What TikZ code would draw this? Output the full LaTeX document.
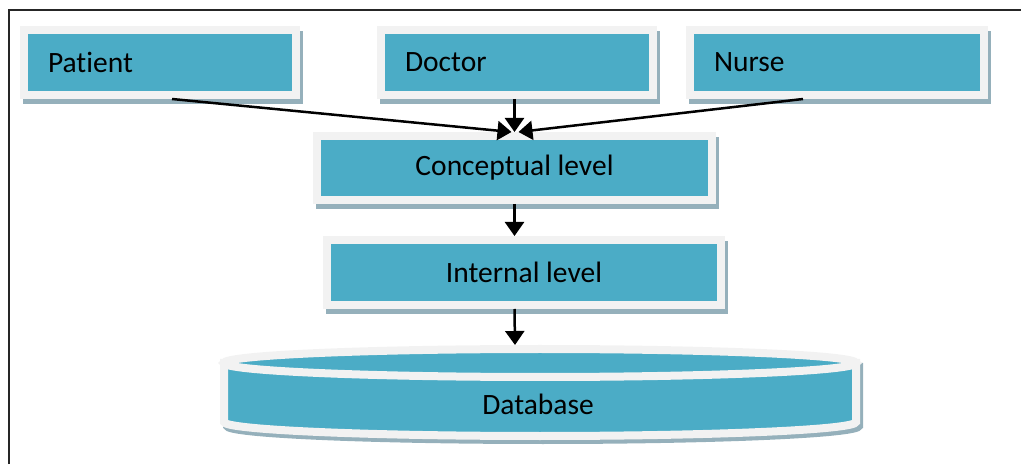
\documentclass[tikz,border=0pt]{standalone}
\usepackage{fontspec}
\setmainfont{Carlito}[Ligatures=NoCommon]
\usetikzlibrary{arrows.meta,shadows,calc}
\definecolor{tealc}{HTML}{4BACC6}
\definecolor{ringc}{HTML}{F2F2F2}
\definecolor{shadc}{HTML}{95B0BB}
\begin{document}
\begin{tikzpicture}[x=1pt,y=1pt,
  boxbase/.style={rectangle, fill=tealc, draw=ringc, line width=8pt, outer sep=0pt,
    inner ysep=0pt, minimum height=65pt, font=\fontsize{29.5}{35}\selectfont, text=black,
    general shadow={fill=shadc, draw=shadc, line width=8pt, shadow xshift=3pt, shadow yshift=-5pt}},
  rolebox/.style={boxbase, align=left, inner xsep=24pt, text width=#1},
  levelbox/.style={boxbase, minimum width=#1, align=center},
  conn/.style={line width=2.5pt, -{Triangle[width=19pt,length=14pt]}},
  cylpart/.style={fill=tealc, draw=ringc, line width=8pt},
  cylshadow/.style={fill=shadc, draw=shadc, line width=8pt},
  dblabel/.style={font=\fontsize{29.5}{35}\selectfont, text=black, inner sep=0pt}
]
\useasboundingbox (0,0) rectangle (1021,464);
% frame
\draw[line width=1.8pt, black!85] (9,0) -- (9,454) -- (1021,454);

% user views
\node[rolebox=224pt] (pat) at (160,401.5) {Patient};
\node[rolebox=224pt] (doc) at (517,401.5) {Doctor};
\node[rolebox=246pt] (nur) at (837,401.5) {Nurse};

% levels
\node[levelbox=395pt, minimum height=64pt] (con) at (514.5,296) {Conceptual level};
\node[levelbox=394pt] (int) at (524,191.5) {Internal level};

% database cylinder
\begin{scope}[shift={(3,-4)}]
  \path[cylshadow] (224,101) -- (224,42) arc[start angle=180, end angle=360, x radius=316, y radius=14] -- (856,101) -- cycle;
\end{scope}
\path[cylpart] (224,101) -- (224,42) arc[start angle=180, end angle=360, x radius=316, y radius=14] -- (856,101) -- cycle;
\path[cylpart] (540,101) ellipse[x radius=316, y radius=14];
\node[dblabel] (db) at (538,60) {Database};
\coordinate (dbtop) at (515,119);

% connectors
\draw[conn] ($(pat.south)+(12,-4)$) -- ($(con.north)+(-3,4)$);
\draw[conn] ($(doc.south -| con.north)+(0,-4)$) -- ($(con.north)+(0,4)$);
\draw[conn] ($(nur.south)+(-34,-4)$) -- ($(con.north)+(4,4)$);
\draw[conn] ($(con.south)+(0,-4)$) -- ($(con.south |- int.north)+(0,4)$);
\draw[conn] ($(con.south |- int.south)+(0,-4)$) -- (dbtop);
\end{tikzpicture}
\end{document}
